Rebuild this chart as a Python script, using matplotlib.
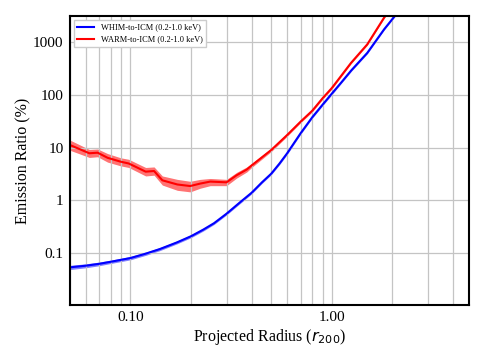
import matplotlib
matplotlib.use("Agg")
import matplotlib.pyplot as plt
from matplotlib.ticker import FixedLocator, FixedFormatter, NullFormatter

plt.rcParams['font.family'] = ['Liberation Serif', 'DejaVu Serif']

# WHIM-to-ICM emission ratio (%) vs projected radius (r200)
whim_r = [0.05, 0.06, 0.07, 0.08, 0.10, 0.12, 0.14, 0.17, 0.20, 0.23, 0.26,
          0.30, 0.35, 0.40, 0.45, 0.50, 0.55, 0.60, 0.65, 0.70, 0.80, 0.90,
          1.00, 1.12, 1.25, 1.50, 1.82, 2.07, 2.30]
whim = [0.054, 0.058, 0.063, 0.069, 0.081, 0.099, 0.12, 0.16, 0.21, 0.28,
        0.37, 0.56, 0.92, 1.4, 2.2, 3.2, 5.0, 7.8, 12.3, 18.7, 37.6, 65,
        105, 175, 290, 620, 1740, 3200, 5500]
whim_lo = [0.049, 0.053, 0.058, 0.064, 0.075, 0.092, 0.112, 0.15, 0.197, 0.263,
           0.35, 0.53, 0.87, 1.33, 2.1, 3.05, 4.75, 7.4, 11.7, 17.8, 36, 62,
           100, 168, 278, 595, 1680, 3100, 5300]
whim_hi = [0.059, 0.063, 0.068, 0.074, 0.087, 0.106, 0.128, 0.17, 0.223, 0.297,
           0.39, 0.59, 0.97, 1.47, 2.3, 3.35, 5.25, 8.2, 12.9, 19.6, 39.2, 68,
           110, 182, 302, 645, 1800, 3300, 5700]

# WARM-to-ICM emission ratio (%)
warm_r = [0.05, 0.0625, 0.0687, 0.077, 0.0895, 0.098, 0.119, 0.131, 0.144,
          0.171, 0.198, 0.222, 0.249, 0.30, 0.337, 0.378, 0.40, 0.50, 0.60,
          0.70, 0.80, 0.90, 1.00, 1.245, 1.50, 1.82, 2.05]
warm = [11.2, 7.8, 8.0, 6.4, 5.4, 5.0, 3.5, 3.6, 2.4, 2.0, 1.87, 2.08, 2.27,
        2.2, 3.0, 3.84, 4.6, 9.0, 17.3, 31, 50, 86, 134, 400, 900, 2900, 5500]
warm_lo = [8.9, 6.5, 6.7, 5.3, 4.5, 4.2, 2.9, 3.0, 1.95, 1.55, 1.45, 1.7, 1.9,
           1.9, 2.65, 3.45, 4.2, 8.4, 16.3, 29.5, 47.5, 82, 128, 385, 865, 2800, 5300]
warm_hi = [13.9, 9.2, 9.4, 7.7, 6.4, 6.0, 4.2, 4.3, 2.9, 2.5, 2.3, 2.5, 2.6,
           2.5, 3.4, 4.3, 5.0, 9.6, 18.3, 32.5, 52.5, 90, 140, 415, 935, 3000, 5700]

y_ticks = [0.1, 1, 10, 100, 1000]
y_labels = ['0.1', '1', '10', '100', '1000']
x_ticks = [0.1, 1.0]
x_labels = ['0.10', '1.00']

fig = plt.figure(figsize=(4.85, 3.63), dpi=100)
ax = fig.add_axes([0.144, 0.16, 0.823, 0.796])

ax.fill_between(whim_r, whim_lo, whim_hi, color='blue', alpha=0.5, lw=0)
ax.plot(whim_r, whim, color='blue', lw=1.5, label='WHIM-to-ICM (0.2-1.0 keV)')
ax.fill_between(warm_r, warm_lo, warm_hi, color='red', alpha=0.55, lw=0)
ax.plot(warm_r, warm, color='red', lw=1.5, label='WARM-to-ICM (0.2-1.0 keV)')

ax.set_xscale('log')
ax.set_yscale('log')
ax.set_xlim(0.05, 4.8)
ax.set_ylim(0.0105, 3100)

ax.yaxis.set_major_locator(FixedLocator(y_ticks))
ax.yaxis.set_major_formatter(FixedFormatter(y_labels))
ax.yaxis.set_minor_formatter(NullFormatter())
ax.xaxis.set_major_locator(FixedLocator(x_ticks))
ax.xaxis.set_major_formatter(FixedFormatter(x_labels))
ax.xaxis.set_minor_formatter(NullFormatter())

ax.grid(True, which='both', axis='x', color='#c4c4c4', lw=0.9)
ax.grid(True, which='major', axis='y', color='#c4c4c4', lw=0.9)
ax.tick_params(which='both', length=0)
ax.tick_params(labelsize=11, pad=4.5)

for s in ax.spines.values():
    s.set_linewidth(1.5)

ax.set_xlabel('Projected Radius ($r_{200}$)', fontsize=11.5, labelpad=2)
ax.set_ylabel('Emission Ratio (%)', fontsize=11.5, labelpad=1.5)

ax.legend(loc='upper left', fontsize=6.0, framealpha=1, edgecolor='#cccccc',
          fancybox=False)

fig.savefig('out.png', dpi=100)
